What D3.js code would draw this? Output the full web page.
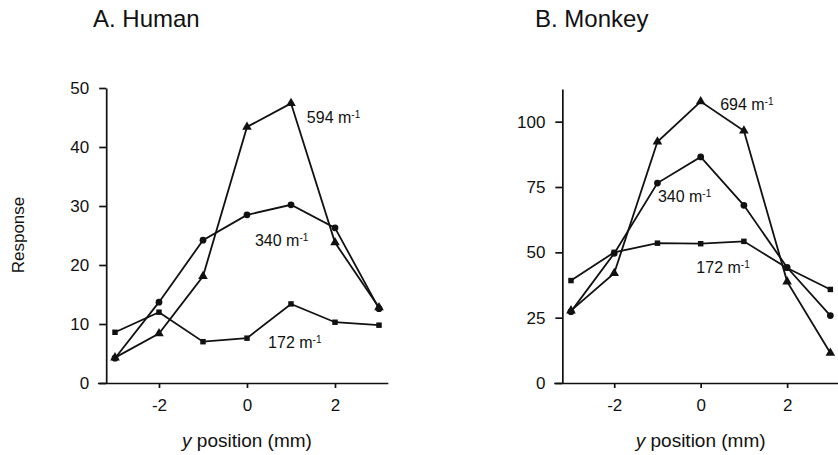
<!DOCTYPE html>
<html>
<head>
<meta charset="utf-8">
<script src="https://cdn.jsdelivr.net/npm/d3@7"></script>
<style>
  body { margin: 0; background: #fff; }
  svg { font-family: "Liberation Sans", Arial, sans-serif; }
  .tick text { font-size: 17px; fill: #111; }
  .domain, .tick line { stroke: #111; stroke-width: 1.7; }
</style>
</head>
<body>
<div id="chart"></div>
<script>
// y position (mm)
const positions = [-3, -2, -1, 0, 1, 2, 3];

// Human responses
const human594 = [4.3, 8.4, 18.1, 43.4, 47.4, 23.8, 12.8];
const human340 = [4.2, 13.7, 24.2, 28.5, 30.2, 26.3, 12.6];
const human172 = [8.6, 12.0, 7.0, 7.6, 13.4, 10.3, 9.8];

// Monkey responses
const monkey694 = [27.7, 42.0, 92.3, 107.7, 96.5, 38.8, 11.5];
const monkey340 = [27.3, 49.6, 76.5, 86.5, 68.0, 44.2, 25.8];
const monkey172 = [39.2, 50.0, 53.5, 53.3, 54.2, 44.0, 35.8];

const xTicks = [-2, 0, 2];
const humanTicks = [0, 10, 20, 30, 40, 50];
const monkeyTicks = [0, 25, 50, 75, 100];

const humanLabels = ['594', '340', '172'];
const monkeyLabels = ['694', '340', '172'];

const width = 838, height = 455;
const svg = d3.select('#chart').append('svg')
    .attr('width', width)
    .attr('height', height);

function drawPanel(opts) {
    const x = d3.scaleLinear().domain([-3.4, 3.2]).range(opts.xRange);
    const y = d3.scaleLinear().domain([0, opts.yMax]).range([383, opts.yTop]);

    // title
    svg.append('text')
        .attr('x', opts.titleX)
        .attr('y', 27)
        .style('font-size', '24px')
        .attr('fill', '#111')
        .text(opts.title);

    // x axis (plain hyphen for negatives, like the original)
    svg.append('g')
        .attr('transform', `translate(0, ${y(0)})`)
        .call(d3.axisBottom(x).tickValues(xTicks).tickSize(5).tickSizeOuter(0).tickPadding(11)
            .tickFormat(d => String(d)));

    // y axis
    svg.append('g')
        .attr('transform', `translate(${x(-3.2)}, 0)`)
        .call(d3.axisLeft(y).tickValues(opts.yTicks).tickSize(7).tickSizeOuter(0).tickPadding(10));

    // x axis title
    const xt = svg.append('text')
        .attr('x', x(0))
        .attr('y', 447)
        .attr('text-anchor', 'middle')
        .style('font-size', '19px')
        .attr('fill', '#111');
    xt.append('tspan').style('font-style', 'italic').text('y');
    xt.append('tspan').text(' position (mm)');

    const line = d3.line()
        .x((d, i) => x(positions[i]))
        .y(d => y(d));

    const shapes = [d3.symbolTriangle, d3.symbolCircle, d3.symbolSquare];
    const sizes = [40, 36, 30];

    opts.series.forEach((vals, k) => {
        svg.append('path')
            .datum(vals)
            .attr('fill', 'none')
            .attr('stroke', '#111')
            .attr('stroke-width', 1.8)
            .attr('d', line);

        svg.selectAll(null)
            .data(vals)
            .enter().append('path')
            .attr('transform', (d, i) => `translate(${x(positions[i])}, ${y(d)})`)
            .attr('d', d3.symbol().type(shapes[k]).size(sizes[k]))
            .attr('fill', '#111');
    });

    // series labels
    opts.labels.forEach((lab, k) => {
        const pos = opts.labelPos[k];
        const t = svg.append('text')
            .attr('x', x(pos[0]))
            .attr('y', y(pos[1]))
            .attr('dy', '0.35em')
            .style('font-size', '16px')
            .attr('fill', '#111');
        t.append('tspan').text(lab + ' m');
        t.append('tspan').attr('dy', '-0.5em').style('font-size', '10px').text('-1');
    });
}

drawPanel({
    title: 'A. Human',
    titleX: 93,
    xRange: [97.4, 387.8],
    yMax: 50,
    yTop: 88,
    yTicks: humanTicks,
    series: [human594, human340, human172],
    labels: humanLabels,
    labelPos: [[1.36, 45], [0.18, 24.2], [0.48, 6.8]]
});

drawPanel({
    title: 'B. Monkey',
    titleX: 535,
    xRange: [553.7, 839],
    yMax: 112.5,
    yTop: 89,
    yTicks: monkeyTicks,
    series: [monkey694, monkey340, monkey172],
    labels: monkeyLabels,
    labelPos: [[0.45, 106.5], [-0.99, 71.3], [-0.1, 44.4]]
});

// shared y axis title
svg.append('text')
    .attr('transform', 'translate(24, 235) rotate(-90)')
    .attr('text-anchor', 'middle')
    .style('font-size', '17px')
    .attr('fill', '#111')
    .text('Response');
</script>
</body>
</html>
